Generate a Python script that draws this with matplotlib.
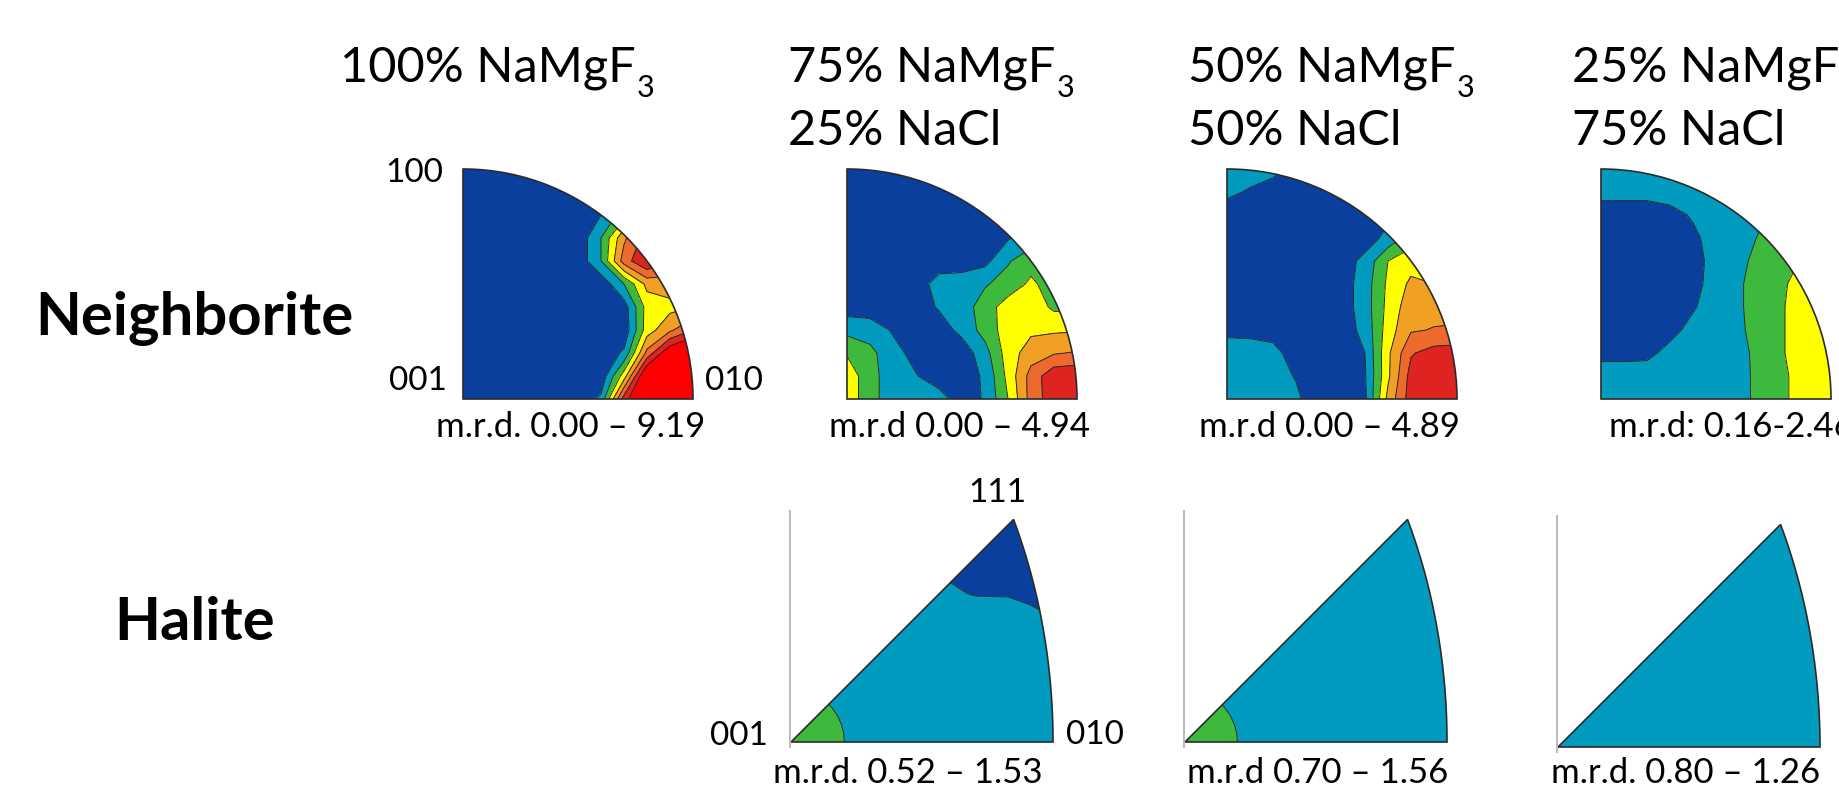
import numpy as np
import matplotlib
matplotlib.use('Agg')
import matplotlib.pyplot as plt
from matplotlib.patches import Wedge, PathPatch
from matplotlib.path import Path

plt.rcParams['font.family'] = ['Lato', 'DejaVu Sans']

W, H = 1839, 789

# contour band colours, lowest to highest (MTEX-like jet steps)
band_colors = ['#0B3F9E', '#009BBF', '#3DBA3D', '#FFFF00',
               '#F2A024', '#EC6A2C', '#DE2420', '#FF0000']
band_levels = [-1, 1, 2, 3, 4, 5, 6, 7, 20]

# ---- neighborite inverse pole figures (quarter circle, 001 at lower left) ----
# values on a regular grid, x = 0..1 left to right, rows from y = 1 (top) to y = 0
grid_x = [0.0, 0.1, 0.2, 0.3, 0.4, 0.5, 0.6, 0.7, 0.8, 0.9, 1.0]
grid_y = [1.0, 0.9, 0.8, 0.7, 0.6, 0.5, 0.4, 0.3, 0.2, 0.1, 0.0]

nb_100 = [
    [0.3, 0.3, 0.3, 0.3, 0.3, 0.3, 0.3, 0.3, 0.3, 0.3, 0.3],
    [0.3, 0.3, 0.3, 0.3, 0.3, 0.3, 0.3, 0.3, 0.3, 0.3, 0.3],
    [0.3, 0.3, 0.3, 0.3, 0.3, 0.3, 1.0, 2.5, 3.0, 3.0, 3.0],
    [0.3, 0.3, 0.3, 0.3, 0.3, 0.3, 2.0, 4.8, 6.5, 5.5, 5.5],
    [0.3, 0.3, 0.3, 0.3, 0.3, 0.3, 2.0, 5.5, 7.0, 6.0, 6.0],
    [0.3, 0.3, 0.3, 0.3, 0.3, 0.3, 0.3, 2.0, 4.3, 4.5, 4.5],
    [0.3, 0.3, 0.3, 0.3, 0.3, 0.3, 0.3, 0.5, 3.4, 3.7, 4.0],
    [0.3, 0.3, 0.3, 0.3, 0.3, 0.3, 0.3, 0.3, 3.5, 4.8, 6.0],
    [0.3, 0.3, 0.3, 0.3, 0.3, 0.3, 0.3, 1.16, 5.3, 8.0, 9.0],
    [0.3, 0.3, 0.3, 0.3, 0.3, 0.3, 0.3, 3.5, 8.5, 9.0, 9.0],
    [0.3, 0.3, 0.3, 0.3, 0.3, 0.3, 1.2, 6.5, 9.0, 9.0, 9.0],
]

nb_75 = [
    [0.5, 0.5, 0.5, 0.5, 0.5, 0.5, 0.5, 0.5, 0.5, 0.5, 0.5],
    [0.5, 0.5, 0.5, 0.5, 0.5, 0.5, 0.5, 0.5, 0.5, 0.5, 0.5],
    [0.5, 0.5, 0.5, 0.5, 0.5, 0.5, 0.5, 0.5, 0.5, 0.5, 0.5],
    [0.5, 0.5, 0.5, 0.5, 0.5, 0.5, 0.5, 0.9, 1.5, 1.5, 1.5],
    [0.5, 0.5, 0.5, 0.5, 0.5, 0.5, 0.7, 1.9, 2.6, 2.6, 2.6],
    [0.5, 0.5, 0.5, 0.5, 1.4, 1.5, 1.9, 2.4, 3.2, 2.5, 2.5],
    [0.5, 0.5, 0.5, 0.5, 1.1, 1.5, 2.5, 3.5, 3.6, 2.8, 2.7],
    [1.7, 1.5, 0.9, 0.5, 0.5, 1.3, 2.4, 3.5, 3.8, 3.85, 3.9],
    [2.9, 2.3, 1.3, 0.7, 0.5, 0.4, 1.6, 3.5, 4.5, 4.9, 5.1],
    [3.6, 2.4, 1.4, 1.05, 0.5, 0.5, 1.15, 3.3, 5.4, 6.7, 6.8],
    [3.6, 2.4, 1.4, 1.3, 1.4, 0.5, 1.1, 3.0, 5.4, 6.6, 6.9],
]

nb_50 = [
    [1.5, 1.4, 1.3, 0.8, 0.5, 0.5, 0.5, 0.5, 0.5, 0.5, 0.5],
    [1.2, 0.9, 0.5, 0.5, 0.5, 0.5, 0.5, 0.5, 0.5, 0.5, 0.5],
    [0.5, 0.5, 0.5, 0.5, 0.5, 0.5, 0.5, 0.8, 1.5, 1.5, 1.5],
    [0.5, 0.5, 0.5, 0.5, 0.5, 0.5, 0.5, 1.3, 2.5, 2.5, 2.5],
    [0.5, 0.5, 0.5, 0.5, 0.5, 0.5, 1.3, 3.0, 3.6, 3.5, 3.5],
    [0.5, 0.5, 0.5, 0.5, 0.5, 0.5, 1.5, 3.2, 4.2, 4.0, 4.0],
    [0.5, 0.5, 0.5, 0.5, 0.5, 0.5, 1.5, 3.3, 4.6, 4.7, 4.7],
    [0.85, 0.85, 0.75, 0.5, 0.5, 0.5, 1.3, 3.5, 4.9, 5.05, 5.1],
    [1.3, 1.25, 1.2, 0.7, 0.5, 0.5, 1.0, 3.8, 5.9, 6.4, 6.5],
    [1.4, 1.35, 1.3, 0.95, 0.5, 0.5, 0.9, 3.8, 6.4, 6.6, 6.7],
    [1.4, 1.35, 1.3, 1.15, 0.5, 0.5, 0.8, 4.3, 6.5, 6.7, 6.8],
]

nb_25 = [
    [1.5, 1.5, 1.5, 1.5, 1.5, 1.5, 1.5, 1.5, 1.5, 1.5, 1.5],
    [1.3, 1.3, 1.3, 1.4, 1.5, 1.5, 1.5, 1.5, 1.5, 1.5, 1.5],
    [0.5, 0.5, 0.5, 0.7, 1.1, 1.5, 1.7, 1.9, 2.0, 2.0, 2.0],
    [0.5, 0.5, 0.5, 0.5, 0.8, 1.4, 1.7, 2.1, 2.4, 2.4, 2.4],
    [0.5, 0.5, 0.5, 0.5, 0.7, 1.3, 1.8, 2.3, 2.7, 3.2, 3.2],
    [0.5, 0.5, 0.5, 0.5, 0.7, 1.4, 1.9, 2.4, 2.95, 3.4, 3.5],
    [0.5, 0.5, 0.5, 0.5, 0.9, 1.5, 1.9, 2.4, 3.0, 3.5, 3.6],
    [0.5, 0.5, 0.5, 0.7, 1.3, 1.5, 1.85, 2.4, 3.0, 3.5, 3.6],
    [0.7, 0.7, 0.75, 1.3, 1.5, 1.5, 1.75, 2.3, 3.0, 3.6, 3.7],
    [1.5, 1.5, 1.5, 1.5, 1.5, 1.5, 1.7, 2.3, 2.9, 3.5, 3.7],
    [1.5, 1.5, 1.5, 1.5, 1.5, 1.5, 1.7, 2.3, 2.9, 3.5, 3.7],
]

# ---- halite inverse pole figures (001-101-111 triangle), polar grid ----
hal_phi = [0, 10, 20, 30, 40, 45]          # degrees from 001->010 edge
hal_r = [0, 0.1, 0.2, 0.3, 0.5, 0.7, 0.8, 0.9, 1.0, 1.1, 1.2, 1.3]

hal_75 = [
    [2.6, 2.35, 2.02, 1.5, 1.5, 1.5, 1.5, 1.5, 1.5, 1.5, 1.5, 1.5],
    [2.6, 2.35, 2.02, 1.5, 1.5, 1.5, 1.5, 1.5, 1.5, 1.5, 1.5, 1.5],
    [2.6, 2.35, 2.02, 1.5, 1.5, 1.5, 1.5, 1.5, 1.5, 1.5, 1.5, 1.5],
    [2.6, 2.35, 2.02, 1.5, 1.5, 1.5, 1.5, 1.5, 1.3, 0.7, 0.5, 0.5],
    [2.6, 2.35, 2.02, 1.5, 1.5, 1.5, 1.4, 0.9, 0.5, 0.5, 0.5, 0.5],
    [2.6, 2.35, 2.02, 1.5, 1.5, 1.5, 1.3, 0.8, 0.5, 0.5, 0.5, 0.5],
]
hal_50 = [
    [2.6, 2.35, 2.0, 1.5, 1.5, 1.5, 1.5, 1.5, 1.5, 1.5, 1.5, 1.5],
    [2.6, 2.35, 2.0, 1.5, 1.5, 1.5, 1.5, 1.5, 1.5, 1.5, 1.5, 1.5],
    [2.6, 2.35, 2.0, 1.5, 1.5, 1.5, 1.5, 1.5, 1.5, 1.5, 1.5, 1.5],
    [2.6, 2.35, 2.0, 1.5, 1.5, 1.5, 1.5, 1.5, 1.5, 1.5, 1.5, 1.5],
    [2.6, 2.35, 2.0, 1.5, 1.5, 1.5, 1.5, 1.5, 1.5, 1.5, 1.5, 1.5],
    [2.6, 2.35, 2.0, 1.5, 1.5, 1.5, 1.5, 1.5, 1.5, 1.5, 1.5, 1.5],
]
hal_25 = [
    [1.5, 1.5, 1.5, 1.5, 1.5, 1.5, 1.5, 1.5, 1.5, 1.5, 1.5, 1.5],
    [1.5, 1.5, 1.5, 1.5, 1.5, 1.5, 1.5, 1.5, 1.5, 1.5, 1.5, 1.5],
    [1.5, 1.5, 1.5, 1.5, 1.5, 1.5, 1.5, 1.5, 1.5, 1.5, 1.5, 1.5],
    [1.5, 1.5, 1.5, 1.5, 1.5, 1.5, 1.5, 1.5, 1.5, 1.5, 1.5, 1.5],
    [1.5, 1.5, 1.5, 1.5, 1.5, 1.5, 1.5, 1.5, 1.5, 1.5, 1.5, 1.5],
    [1.5, 1.5, 1.5, 1.5, 1.5, 1.5, 1.5, 1.5, 1.5, 1.5, 1.5, 1.5],
]

# header lines: (text before subscript, subscript) and second line
headers = [('100% NaMgF', '3', None),
           ('75% NaMgF', '3', '25% NaCl'),
           ('50% NaMgF', '3', '50% NaCl'),
           ('25% NaMgF', '3', '75% NaCl')]
nb_ranges = ['m.r.d. 0.00 \u2013 9.19', 'm.r.d 0.00 \u2013 4.94',
             'm.r.d 0.00 \u2013 4.89', 'm.r.d: 0.16-2.46']
hal_ranges = ['m.r.d. 0.52 \u2013 1.53', 'm.r.d 0.70 \u2013 1.56',
              'm.r.d. 0.80 \u2013 1.26']

fig = plt.figure(figsize=(W / 100, H / 100), dpi=100)


def px_axes(left, top, width, height):
    ax = fig.add_axes([left / W, 1 - (top + height) / H, width / W, height / H])
    ax.axis('off')
    return ax


def px_text(x, y, s, **kw):
    return fig.text(x / W, 1 - y / H, s, va='baseline', **kw)


edge = '#2b2b2b'

# neighborite row
nb_lefts = [463, 847, 1227, 1601]
nb_top, nb_size = 169, 230
GX, GY = np.meshgrid(grid_x, grid_y)
for left, z in zip(nb_lefts, [nb_100, nb_75, nb_50, nb_25]):
    ax = px_axes(left, nb_top, nb_size, nb_size)
    ax.set_xlim(0, 1)
    ax.set_ylim(0, 1)
    clip = Wedge((0, 0), 1, 0, 90, transform=ax.transData)
    cf = ax.contourf(GX, GY, np.array(z), levels=band_levels, colors=band_colors)
    cf.set_clip_path(clip)
    cl = ax.contour(GX, GY, np.array(z), levels=band_levels[1:-1],
                    colors=edge, linewidths=0.7)
    cl.set_clip_path(clip)
    ax.add_patch(Wedge((0, 0), 1, 0, 90, fill=False, ec=edge, lw=1.2,
                       clip_on=False))

# halite row: triangle outline in equal-area projection, [101] at (1, 0)
t = np.linspace(0, 1, 80)
v = np.stack([np.ones_like(t), t, np.ones_like(t)]) / np.sqrt(2 + t ** 2)
rr = 2 * np.sin(np.arccos(v[2]) / 2) / (2 * np.sin(np.pi / 8))
pp = np.arctan2(v[1], v[0])
tri_verts = [(0, 0)] + list(zip(rr * np.cos(pp), rr * np.sin(pp))) + [(0, 0)]
tri_path = Path(tri_verts, closed=True)

hal_origins = [(791, 742), (1185, 742), (1558, 747)]
scale = 262
PR, PP = np.meshgrid(hal_r, np.radians(hal_phi))
HX, HY = PR * np.cos(PP), PR * np.sin(PP)
for (ox, oy), z in zip(hal_origins, [hal_75, hal_50, hal_25]):
    ax = px_axes(ox - 0.1 * scale, oy - 1.0 * scale, 1.2 * scale, 1.1 * scale)
    ax.set_xlim(-0.1, 1.1)
    ax.set_ylim(-0.1, 1.0)
    clip = PathPatch(tri_path, transform=ax.transData)
    cf = ax.contourf(HX, HY, np.array(z), levels=band_levels, colors=band_colors)
    cf.set_clip_path(clip)
    cl = ax.contour(HX, HY, np.array(z), levels=band_levels[1:-1],
                    colors=edge, linewidths=0.7)
    cl.set_clip_path(clip)
    ax.plot([-0.005, -0.005], [-0.02, 0.88], color='#bdbdbd', lw=1.5)
    ax.add_patch(PathPatch(tri_path, fill=False, ec=edge, lw=1.2))

# column headers, subscript placed after the measured main text
renderer = fig.canvas.get_renderer()
head_x = [340, 788, 1188, 1572]
for x, (main, sub, second) in zip(head_x, headers):
    t1 = px_text(x, 82, main, fontsize=35, ha='left')
    right = t1.get_window_extent(renderer).x1
    px_text(right + 1, 97, sub, fontsize=22, ha='left')
    if second:
        px_text(x, 145, second, fontsize=35, ha='left')

# row labels
px_text(194, 335, 'Neighborite', fontsize=43, fontweight='bold', ha='center')
px_text(195, 640, 'Halite', fontsize=43, fontweight='bold', ha='center')

# pole labels
px_text(443, 182, '100', fontsize=24, ha='right')
px_text(447, 390, '001', fontsize=24, ha='right')
px_text(705, 390, '010', fontsize=24, ha='left')
px_text(997, 502, '111', fontsize=24, ha='center')
px_text(768, 745, '001', fontsize=24, ha='right')
px_text(1066, 744, '010', fontsize=24, ha='left')

# m.r.d. ranges
for x, s in zip([571, 960, 1329], nb_ranges[:3]):
    px_text(x, 437, s, fontsize=25, ha='center')
px_text(1609, 437, nb_ranges[3], fontsize=25, ha='left')
for x, s in zip([908, 1318, 1686], hal_ranges):
    px_text(x, 783, s, fontsize=25, ha='center')

fig.savefig('out.png', dpi=100)
